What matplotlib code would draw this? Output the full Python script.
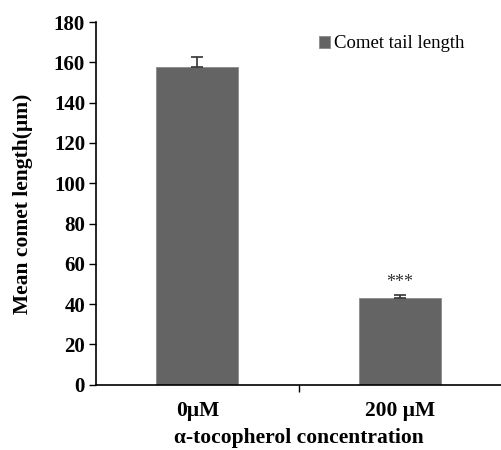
import matplotlib.pyplot as plt
from matplotlib.ticker import FixedLocator

# data
categories = ["0\u03bcM", "200 \u03bcM"]
means = [157.5, 43.0]
errors = [5.3, 1.6]
sig_marks = ["", "***"]

plt.rcParams["font.family"] = ["Liberation Serif", "DejaVu Serif"]

fig = plt.figure(figsize=(5.01, 4.5), dpi=100)
ax = fig.add_axes([0.192, 0.145, 0.808, 0.806])

x = list(range(len(categories)))
ax.bar(x, means, width=0.405, color="#646464", edgecolor="#8a8a8a",
       linewidth=0.6, label="Comet tail length", zorder=2)
ax.errorbar(x, means, yerr=[[0, 0], errors], fmt="none", ecolor="#333333",
            elinewidth=1.2, capsize=4.5, capthick=1.2, zorder=3)

for xi, m, e, s in zip(x, means, errors, sig_marks):
    if s:
        ax.text(xi, m + e + 2, s, ha="center", va="bottom", fontsize=13,
                color="#333333")

ax.set_xlim(-0.5, 1.5)
ax.set_ylim(0, 180)
ax.set_yticks(range(0, 181, 20))
ax.set_xticks(x)
ax.set_xticklabels(categories, fontsize=15.5, fontweight="bold")
ax.tick_params(axis="x", length=0, pad=12)
ax.xaxis.set_minor_locator(FixedLocator([0.5]))
ax.tick_params(axis="x", which="minor", length=5, width=1, direction="out")
ax.tick_params(axis="y", length=5, width=1, labelsize=15, pad=3)
for lab in ax.get_yticklabels():
    lab.set_fontweight("bold")

ax.spines["top"].set_visible(False)
ax.spines["right"].set_visible(False)
ax.spines["left"].set_linewidth(1.2)
ax.spines["bottom"].set_linewidth(1.2)

ax.set_ylabel("Mean comet length(\u03bcm)", fontsize=15.5, fontweight="bold")
ax.yaxis.set_label_coords(-0.155, 0.5)
ax.set_xlabel("\u03b1-tocopherol concentration", fontsize=15.5,
              fontweight="bold", labelpad=5)

ax.legend(loc="upper right", bbox_to_anchor=(0.95, 1.01), frameon=False,
          fontsize=13.5, handlelength=0.6, handleheight=0.6, handletextpad=0.2)

fig.savefig("out.png", dpi=100)
